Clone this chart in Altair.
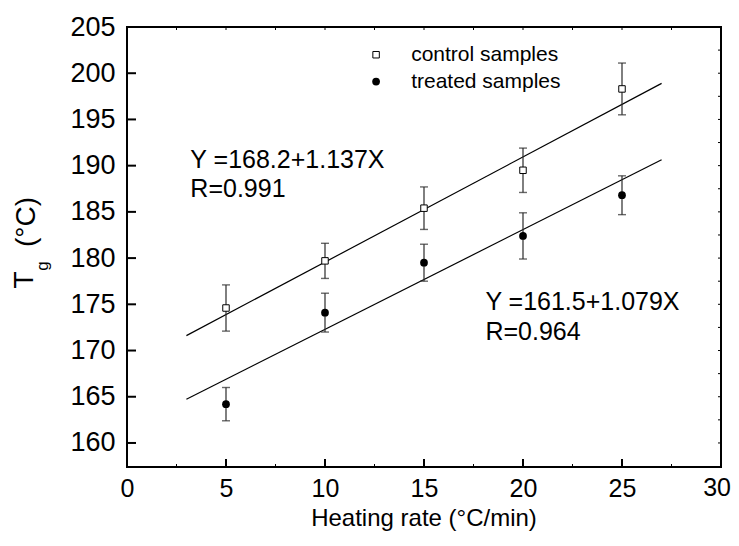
import altair as alt
import pandas as pd

# ---- data ----
rates = [5, 10, 15, 20, 25]
control_tg = [174.6, 179.7, 185.4, 189.5, 198.3]
control_err = [2.5, 1.9, 2.3, 2.4, 2.8]
treated_tg = [164.2, 174.1, 179.5, 182.4, 186.8]
treated_err = [1.8, 2.1, 2.0, 2.5, 2.1]

# fitted lines (printed regression equations), drawn from x=3 to x=27
fit_x = [3, 27]
control_fit = (168.2, 1.137)
treated_fit = (161.5, 1.079)

x_ticks = [0, 5, 10, 15, 20, 25, 30]
x_minor = [2.5, 7.5, 12.5, 17.5, 22.5, 27.5]
x_top = [2.5, 5, 7.5, 10, 12.5, 15, 17.5, 20, 22.5, 25, 27.5]
y_ticks = [160, 165, 170, 175, 180, 185, 190, 195, 200, 205]
y_right = [160, 162.5, 165, 167.5, 170, 172.5, 175, 177.5, 180, 182.5, 185,
           187.5, 190, 192.5, 195, 197.5, 200, 202.5]

legend_labels = ["control samples", "treated samples"]
legend_y = [202.0, 199.1]

annot_lines = ["Y =168.2+1.137X", "R=0.991", "Y =161.5+1.079X", "R=0.964"]
annot_x = [3.2, 3.2, 18.1, 18.1]
annot_y = [190.6, 187.5, 175.3, 172.0]

x_title = "Heating rate (°C/min)"

FONT = "Liberation Sans"
W, H = 594, 440
XD = [0, 30]
YD = [157.4, 205]

xs = alt.Scale(domain=XD, nice=False, zero=False)
ys = alt.Scale(domain=YD, nice=False, zero=False)

pts = pd.DataFrame({
    "rate": rates * 2,
    "tg": control_tg + treated_tg,
    "lo": [v - e for v, e in zip(control_tg, control_err)] + [v - e for v, e in zip(treated_tg, treated_err)],
    "hi": [v + e for v, e in zip(control_tg, control_err)] + [v + e for v, e in zip(treated_tg, treated_err)],
    "group": ["control"] * 5 + ["treated"] * 5,
})

fits = pd.DataFrame({
    "x": fit_x * 2,
    "y": [control_fit[0] + control_fit[1] * v for v in fit_x] + [treated_fit[0] + treated_fit[1] * v for v in fit_x],
    "group": ["control"] * 2 + ["treated"] * 2,
})

XLAB_FS = 25
XLAB_PAD = 9
# x-axis labels 0..25 via the axis; the last one ("30") is drawn right-aligned so it fits
x_axis = alt.Axis(values=x_ticks[:-1], ticks=False, domain=False, grid=False, labelFont=FONT,
                  labelFontSize=XLAB_FS, labelColor="black", labelPadding=XLAB_PAD, labelFlush=False,
                  labelOverlap=False, title=None)
y_axis = alt.Axis(values=y_ticks, ticks=False, domain=False, grid=False, labelFont=FONT,
                  labelFontSize=27, labelColor="black", labelPadding=12, labelFlush=False,
                  labelOverlap=False, title=None)

base_x = alt.X("x:Q", scale=xs, axis=x_axis)
base_y = alt.Y("y:Q", scale=ys, axis=y_axis)

lines = alt.Chart(fits).mark_line(color="black", strokeWidth=1.2).encode(
    x=base_x, y=base_y, detail="group:N")

ERR_C = "#2a2a2a"
err = alt.Chart(pts).mark_rule(color=ERR_C, strokeWidth=1.2).encode(
    x=alt.X("rate:Q", scale=xs), y=alt.Y("lo:Q", scale=ys), y2="hi:Q")
cap_lo = alt.Chart(pts).mark_tick(orient="horizontal", size=8, thickness=1.4, color=ERR_C).encode(
    x=alt.X("rate:Q", scale=xs), y=alt.Y("lo:Q", scale=ys))
cap_hi = alt.Chart(pts).mark_tick(orient="horizontal", size=8, thickness=1.4, color=ERR_C).encode(
    x=alt.X("rate:Q", scale=xs), y=alt.Y("hi:Q", scale=ys))

ctrl = alt.Chart(pts[pts.group == "control"]).mark_point(
    shape="square", filled=True, fill="white", stroke="black", strokeWidth=1, size=42, opacity=1).encode(
    x=alt.X("rate:Q", scale=xs), y=alt.Y("tg:Q", scale=ys))
trt = alt.Chart(pts[pts.group == "treated"]).mark_point(
    shape="circle", filled=True, color="black", size=60, opacity=1).encode(
    x=alt.X("rate:Q", scale=xs), y=alt.Y("tg:Q", scale=ys))

leg = pd.DataFrame({"x": [12.58, 12.58], "tx": [14.35, 14.35], "y": legend_y, "label": legend_labels})
leg_sq = alt.Chart(leg.iloc[[0]]).mark_point(
    shape="square", filled=True, fill="white", stroke="black", strokeWidth=1, size=42, opacity=1).encode(
    x=alt.X("x:Q", scale=xs), y=alt.Y("y:Q", scale=ys))
leg_ci = alt.Chart(leg.iloc[[1]]).mark_point(
    shape="circle", filled=True, color="black", size=60, opacity=1).encode(
    x=alt.X("x:Q", scale=xs), y=alt.Y("y:Q", scale=ys))
leg_tx = alt.Chart(leg).mark_text(align="left", baseline="middle", font=FONT, fontSize=21, color="black").encode(
    x=alt.X("tx:Q", scale=xs), y=alt.Y("y:Q", scale=ys), text="label:N")

ann = pd.DataFrame({"x": annot_x, "y": annot_y, "t": annot_lines})
ann_tx = alt.Chart(ann).mark_text(align="left", baseline="middle", font=FONT, fontSize=25, color="black").encode(
    x=alt.X("x:Q", scale=xs), y=alt.Y("y:Q", scale=ys), text="t:N")

last_lab = alt.Chart(pd.DataFrame({"v": [x_ticks[-1]], "t": [str(x_ticks[-1])]})).mark_text(
    align="right", baseline="top", font=FONT, fontSize=XLAB_FS, color="black", dx=10, dy=XLAB_PAD).encode(
    x=alt.X("v:Q", scale=xs), y=alt.value(H), text="t:N")

# ---- inward ticks ----
xmaj = alt.Chart(pd.DataFrame({"v": x_ticks[1:-1]})).mark_rule(color="black", strokeWidth=2).encode(
    x=alt.X("v:Q", scale=xs), y=alt.value(H), y2=alt.value(H - 8))
xmin = alt.Chart(pd.DataFrame({"v": x_minor})).mark_rule(color="black", strokeWidth=1).encode(
    x=alt.X("v:Q", scale=xs), y=alt.value(H), y2=alt.value(H - 3))
xtop = alt.Chart(pd.DataFrame({"v": x_top})).mark_rule(color="black", strokeWidth=1).encode(
    x=alt.X("v:Q", scale=xs), y=alt.value(0), y2=alt.value(3))
ymaj = alt.Chart(pd.DataFrame({"v": y_ticks[:-1]})).mark_rule(color="black", strokeWidth=2).encode(
    y=alt.Y("v:Q", scale=ys), x=alt.value(0), x2=alt.value(9))
yright = alt.Chart(pd.DataFrame({"v": y_right})).mark_rule(color="black", strokeWidth=1).encode(
    y=alt.Y("v:Q", scale=ys), x=alt.value(W), x2=alt.value(W - 3))

# ---- axis titles ----
tx_title = alt.Chart(pd.DataFrame({"t": [x_title]})).mark_text(
    align="center", baseline="alphabetic", font=FONT, fontSize=24, color="black").encode(
    x=alt.value(W / 2), y=alt.value(H + 59), text="t:N")
ty_T = alt.Chart(pd.DataFrame({"t": ["T"]})).mark_text(
    angle=270, align="center", baseline="middle", font=FONT, fontSize=28, color="black").encode(
    x=alt.value(-102), y=alt.value(253), text="t:N")
ty_g = alt.Chart(pd.DataFrame({"t": ["g"]})).mark_text(
    angle=270, align="center", baseline="middle", font=FONT, fontSize=17, color="black").encode(
    x=alt.value(-84), y=alt.value(239), text="t:N")
ty_C = alt.Chart(pd.DataFrame({"t": ["(°C)"]})).mark_text(
    angle=270, align="center", baseline="middle", font=FONT, fontSize=28, color="black").encode(
    x=alt.value(-100), y=alt.value(195), text="t:N")

chart = alt.layer(
    lines, err, cap_lo, cap_hi, ctrl, trt, leg_sq, leg_ci, leg_tx, ann_tx, last_lab,
    xmaj, xmin, xtop, ymaj, yright, tx_title, ty_T, ty_g, ty_C
).properties(
    width=W, height=H,
    background="white",
    autosize=alt.AutoSizeParams(type="none"),
    padding={"left": 119, "top": 19, "right": 10, "bottom": 65},
).configure_view(stroke="black", strokeWidth=2)

chart.save("out.html", embed_options={"renderer": "svg", "actions": False})
